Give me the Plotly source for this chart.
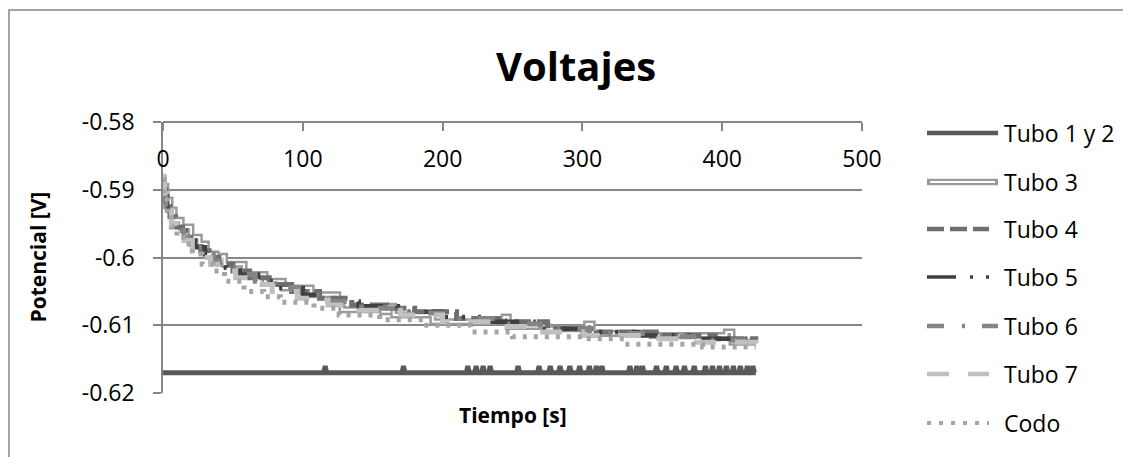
import plotly.graph_objects as go

# ---------------- data ----------------
X_TICKS = [0, 100, 200, 300, 400, 500]
Y_TICKS = [-0.58, -0.59, -0.60, -0.61, -0.62]
Y_TICK_LABELS = ["-0.58", "-0.59", "-0.6", "-0.61", "-0.62"]

SERIES_NAMES = ["Tubo 1 y 2", "Tubo 3", "Tubo 4", "Tubo 5", "Tubo 6", "Tubo 7", "Codo"]

# Tubo 1 y 2: flat level with brief one-step spikes
T12_START = 0
T12_END = 424
T12_BASE = -0.617
T12_SPIKE = -0.616
T12_SPIKE_TIMES = [116, 172, 218, 224, 229, 234, 254, 269, 277, 284, 291, 298, 305, 310,
                   314, 334, 339, 343, 353, 360, 367, 373, 380, 388, 393, 398, 403, 408,
                   413, 418, 422]

# Step series: time where a level starts, and that level
T3_T = [0, 2, 5, 8, 13, 20, 26, 31, 38, 42, 44, 58, 73, 86, 106, 125, 128, 157, 162, 165,
        193, 244, 247, 275, 303, 307, 350, 403, 407, 424]
T3_V = [-0.5895, -0.5915, -0.593, -0.5945, -0.5955, -0.597, -0.598, -0.5995, -0.6005, -0.5998,
        -0.601, -0.6025, -0.6035, -0.6045, -0.6055, -0.6065, -0.6077, -0.608, -0.6072, -0.6085,
        -0.6095, -0.6088, -0.6102, -0.6105, -0.6098, -0.6112, -0.6115, -0.6110, -0.6125, -0.6125]

T4_T = [0, 2, 5, 9, 14, 20, 27, 33, 40, 50, 62, 76, 92, 112, 135, 160, 180, 210, 240, 275,
        310, 355, 395, 424]
T4_V = [-0.590, -0.5925, -0.594, -0.5955, -0.597, -0.598, -0.599, -0.600, -0.601, -0.602,
        -0.603, -0.604, -0.605, -0.606, -0.607, -0.6075, -0.608, -0.609, -0.6095, -0.6105,
        -0.611, -0.6115, -0.612, -0.6125]

T5_T = [0, 3, 6, 10, 16, 23, 30, 37, 45, 55, 68, 82, 100, 118, 140, 168, 200, 232, 265, 300,
        340, 378, 424]
T5_V = [-0.5905, -0.593, -0.5945, -0.596, -0.5975, -0.5985, -0.5995, -0.6005, -0.6015, -0.6025,
        -0.6035, -0.6045, -0.6055, -0.6065, -0.6072, -0.608, -0.6088, -0.6095, -0.6105, -0.611,
        -0.6115, -0.612, -0.6125]

T6_T = [0, 2, 6, 10, 15, 22, 28, 36, 44, 54, 66, 80, 97, 118, 142, 172, 205, 238, 270, 305,
        345, 385, 424]
T6_V = [-0.5905, -0.5925, -0.5945, -0.596, -0.597, -0.5985, -0.5995, -0.6005, -0.6015, -0.6025,
        -0.6035, -0.6045, -0.6055, -0.6065, -0.6075, -0.6082, -0.609, -0.6098, -0.6105, -0.6112,
        -0.6117, -0.6122, -0.6127]

T7_T = [0, 1, 3, 6, 10, 15, 21, 27, 34, 42, 52, 64, 78, 96, 118, 140, 170, 200, 235, 265,
        300, 340, 380, 424]
T7_V = [-0.588, -0.5905, -0.593, -0.595, -0.5965, -0.5975, -0.599, -0.600, -0.601, -0.602,
        -0.603, -0.604, -0.605, -0.606, -0.607, -0.6078, -0.6085, -0.6095, -0.6102, -0.611,
        -0.6115, -0.612, -0.6125, -0.613]

CODO_T = [0, 1, 3, 6, 10, 15, 21, 28, 36, 44, 58, 72, 84, 108, 126, 155, 186, 220, 250, 300,
          330, 386, 424]
CODO_V = [-0.5885, -0.591, -0.5935, -0.5955, -0.597, -0.598, -0.5995, -0.601, -0.602, -0.6035,
          -0.605, -0.6058, -0.6066, -0.6075, -0.6085, -0.6092, -0.610, -0.611, -0.6117, -0.612,
          -0.6128, -0.6132, -0.6132]

# ---------------- geometry helpers (screen pixel -> paper) ----------------
OFF = 8  # default body margin of the page
W, H = 1131 - OFF, 457 - OFF
L, R, T, B = 163 - OFF, 862 - OFF, 122 - OFF, 393 - OFF


def pxx(xs):
    return (xs - OFF - L) / (R - L)


def pxy(ys):
    return (B - (ys - OFF)) / (B - T)


FONT = "Open Sans"
GRID = "#868686"

fig = go.Figure()

# Tubo 1 y 2
x12 = [T12_START]
y12 = [T12_BASE]
for s in T12_SPIKE_TIMES:
    x12 += [s - 1, s, s + 1]
    y12 += [T12_BASE, T12_SPIKE, T12_BASE]
x12.append(T12_END)
y12.append(T12_BASE)
fig.add_trace(go.Scatter(x=x12, y=y12, mode="lines", name=SERIES_NAMES[0],
                         line=dict(color="#595959", width=5), showlegend=False))

# Tubo 3 (double line: gray outer, white inner)
fig.add_trace(go.Scatter(x=T3_T, y=T3_V, mode="lines", name=SERIES_NAMES[1], line_shape="hv",
                         line=dict(color="#9a9a9a", width=7), showlegend=False))
fig.add_trace(go.Scatter(x=T3_T, y=T3_V, mode="lines", name=SERIES_NAMES[1], line_shape="hv",
                         line=dict(color="#ffffff", width=2), showlegend=False, hoverinfo="skip"))

STYLES = [
    (T4_T, T4_V, SERIES_NAMES[2], "#6e6e6e", "17px,6px", 5),
    (T5_T, T5_V, SERIES_NAMES[3], "#404040", "29px,14px,3px,13px,3px,14px", 4.5),
    (T6_T, T6_V, SERIES_NAMES[4], "#858585", "17px,18px,3px,17px", 5),
    (T7_T, T7_V, SERIES_NAMES[5], "#c0c0c0", "22px,19px", 5),
    (CODO_T, CODO_V, SERIES_NAMES[6], "#a5a5a5", "4px,7px", 5),
]
for tt, vv, nm, col, dash, wd in STYLES:
    fig.add_trace(go.Scatter(x=tt, y=vv, mode="lines", name=nm, line_shape="hv",
                             line=dict(color=col, width=wd, dash=dash), showlegend=False))

# ---------------- custom legend ----------------
shapes = []
annotations = []
LEG_Y = [133, 182, 229, 277, 326, 374, 423]
LEG_X0 = 927
LEG_SPECS = [
    ("#595959", "solid", 4.5, 998),
    ("#9a9a9a", "solid", 6.5, 998),
    ("#6e6e6e", "17px,6px", 4.5, 989),
    ("#404040", "29px,14px,3px,13px,3px,14px", 3.5, 990),
    ("#858585", "17px,18px,3px,17px", 4.5, 998),
    ("#c0c0c0", "22px,19px", 4.5, 989),
    ("#a5a5a5", "4px,8px", 4, 989),
]
for i, (col, dash, wd, x1) in enumerate(LEG_SPECS):
    yp = pxy(LEG_Y[i])
    shapes.append(dict(type="line", xref="paper", yref="paper", x0=pxx(LEG_X0), x1=pxx(x1),
                       y0=yp, y1=yp, line=dict(color=col, width=wd, dash=dash)))
    if i == 1:
        shapes.append(dict(type="line", xref="paper", yref="paper", x0=pxx(LEG_X0 + 3),
                           x1=pxx(x1 - 3), y0=yp, y1=yp, line=dict(color="#ffffff", width=2)))
    annotations.append(dict(text=SERIES_NAMES[i], xref="paper", yref="paper", x=pxx(1002),
                            y=yp, xanchor="left", yanchor="middle", showarrow=False,
                            font=dict(family=FONT, size=23, color="#000000")))

# chart border
shapes.append(dict(type="rect", xref="paper", yref="paper", x0=pxx(9), y0=pxy(470),
                   x1=pxx(1140), y1=pxy(10), line=dict(color=GRID, width=1.5),
                   fillcolor="rgba(0,0,0,0)", layer="below"))

# title and axis titles
annotations.append(dict(text="<b>Voltajes</b>", xref="paper", yref="paper", x=pxx(576),
                        y=pxy(66), xanchor="center", yanchor="middle", showarrow=False,
                        font=dict(family=FONT, size=40, color="#000000")))
annotations.append(dict(text="<b>Tiempo [s]</b>", xref="paper", yref="paper", x=pxx(513),
                        y=pxy(415), xanchor="center", yanchor="middle", showarrow=False,
                        font=dict(family=FONT, size=21, color="#000000")))
annotations.append(dict(text="<b>Potencial [V]</b>", xref="paper", yref="paper", x=pxx(37),
                        y=0.5, xanchor="center", yanchor="middle", showarrow=False,
                        textangle=-90, font=dict(family=FONT, size=21, color="#000000")))

fig.update_layout(
    width=W, height=H,
    margin=dict(l=L, r=W - R, t=T, b=H - B, pad=0),
    paper_bgcolor="white", plot_bgcolor="white",
    showlegend=False,
    shapes=shapes, annotations=annotations,
    xaxis=dict(range=[0, 500], tickvals=X_TICKS, ticktext=[str(v) for v in X_TICKS],
               anchor="free", position=1, side="bottom",
               showgrid=False, zeroline=False, showline=True, linecolor=GRID, linewidth=1.5,
               ticks="outside", ticklen=8, tickcolor=GRID, tickwidth=1.5,
               ticklabelstandoff=9,
               tickfont=dict(family=FONT, size=23, color="#000000")),
    yaxis=dict(range=[-0.62, -0.58], tickvals=Y_TICKS, ticktext=Y_TICK_LABELS,
               showgrid=True, gridcolor=GRID, gridwidth=1.5, zeroline=False,
               showline=True, linecolor=GRID, linewidth=1.5,
               ticks="outside", ticklen=8, tickcolor=GRID, tickwidth=1.5,
               ticklabelstandoff=14,
               tickfont=dict(family=FONT, size=23, color="#000000")),
)

fig.write_html("out.html")
